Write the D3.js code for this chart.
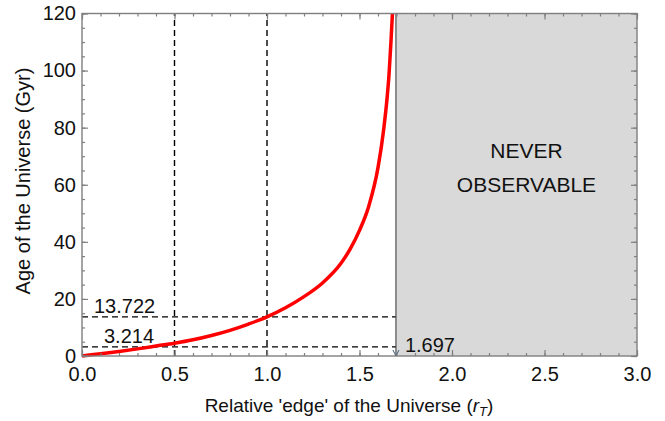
<!DOCTYPE html>
<html>
<head>
<meta charset="utf-8">
<script src="https://cdn.jsdelivr.net/npm/d3@7/dist/d3.min.js"></script>
<style>
  html, body { margin: 0; padding: 0; background: #fff; }
  svg { display: block; font-family: "Liberation Sans", Arial, sans-serif; }
</style>
</head>
<body>
<svg id="chart" width="665" height="421"></svg>
<script>
// ---- data ----
const rT  = [0, 0.1, 0.2, 0.3, 0.4, 0.5, 0.6, 0.7, 0.8, 0.9, 1.0, 1.1, 1.2, 1.3, 1.4, 1.45, 1.5, 1.55, 1.6, 1.63, 1.65, 1.66, 1.67, 1.678];
const age = [0, 0.8, 1.6, 2.5, 3.5, 4.5, 5.7, 7.2, 9.0, 11.2, 13.722, 16.9, 20.8, 25.6, 32.5, 37.5, 44, 52.5, 66, 79, 91, 99, 110, 120];
const refR = [0.5, 1.0];            // vertical dashed lines
const refAge = [13.722, 3.214];     // horizontal dashed lines
const edgeR = 1.697;                // observable edge
const xTicks = [0, 0.5, 1.0, 1.5, 2.0, 2.5, 3.0];
const yTicks = [0, 20, 40, 60, 80, 100, 120];
const xDomain = [0, 3];
const yDomain = [0, 120];

// ---- layout ----
const L = 82, R = 637, T = 13.5, B = 356;
const svg = d3.select("#chart");
const x = d3.scaleLinear().domain(xDomain).range([L, R]);
const y = d3.scaleLinear().domain(yDomain).range([B, T]);

// grey never-observable region
svg.append("rect")
  .attr("x", x(edgeR)).attr("y", y(yDomain[1]))
  .attr("width", x(xDomain[1]) - x(edgeR)).attr("height", y(0) - y(yDomain[1]))
  .attr("fill", "#d9d9d9");

// dashed reference lines
const dash = "6,4";
svg.selectAll(".vref").data(refR).enter().append("line")
  .attr("x1", d => x(d)).attr("x2", d => x(d))
  .attr("y1", y(0)).attr("y2", y(yDomain[1]))
  .attr("stroke", "#000").attr("stroke-width", 1.4).attr("stroke-dasharray", dash);
svg.selectAll(".href").data(refAge).enter().append("line")
  .attr("x1", x(0)).attr("x2", x(edgeR))
  .attr("y1", d => y(d)).attr("y2", d => y(d))
  .attr("stroke", "#000").attr("stroke-width", 1.4).attr("stroke-dasharray", dash);

// curve
const line = d3.line().x((d, i) => x(rT[i])).y(d => y(d)).curve(d3.curveMonotoneX);
svg.append("path").datum(age)
  .attr("d", line).attr("fill", "none")
  .attr("stroke", "#ff0000").attr("stroke-width", 3.5).attr("stroke-linejoin", "round");

// edge line with arrow
svg.append("line")
  .attr("x1", x(edgeR)).attr("x2", x(edgeR))
  .attr("y1", y(yDomain[1])).attr("y2", y(0))
  .attr("stroke", "#404040").attr("stroke-width", 1.1);
svg.append("path")
  .attr("d", `M${x(edgeR) - 3},${y(0) - 6} L${x(edgeR)},${y(0)} L${x(edgeR) + 3},${y(0) - 6}`)
  .attr("fill", "none").attr("stroke", "#3d5f80").attr("stroke-width", 1);

// frame
svg.append("rect")
  .attr("x", L).attr("y", T).attr("width", R - L).attr("height", B - T)
  .attr("fill", "none").attr("stroke", "#7f7f7f").attr("stroke-width", 1.4);

// ticks (inward, all four sides)
const minorX = d3.range(0, 3.0001, 0.1).map(v => +v.toFixed(1));
const minorY = d3.range(0, 120.001, 5);
function styleAxis(g) {
  g.select(".domain").remove();
  g.selectAll(".tick line").attr("stroke", "#7f7f7f").attr("stroke-width", 1.2);
  g.selectAll("text").attr("fill", "#111").style("font-size", "20px")
    .style("font-family", "'Liberation Sans', Arial, sans-serif");
}
svg.append("g").attr("transform", `translate(0,${B})`)
  .call(d3.axisBottom(x).tickValues(minorX).tickSize(-3).tickFormat(""))
  .call(styleAxis);
svg.append("g").attr("transform", `translate(0,${T})`)
  .call(d3.axisTop(x).tickValues(minorX).tickSize(-3).tickFormat(""))
  .call(styleAxis);
svg.append("g").attr("transform", `translate(${L},0)`)
  .call(d3.axisLeft(y).tickValues(minorY).tickSize(-3).tickFormat(""))
  .call(styleAxis);
svg.append("g").attr("transform", `translate(${R},0)`)
  .call(d3.axisRight(y).tickValues(minorY).tickSize(-3).tickFormat(""))
  .call(styleAxis);

svg.append("g").attr("transform", `translate(0,${B})`)
  .call(d3.axisBottom(x).tickValues(xTicks).tickSize(-6).tickPadding(11).tickFormat(d3.format(".1f")))
  .call(styleAxis);
svg.append("g").attr("transform", `translate(0,${T})`)
  .call(d3.axisTop(x).tickValues(xTicks).tickSize(-6).tickFormat(""))
  .call(styleAxis);
svg.append("g").attr("transform", `translate(${L},0)`)
  .call(d3.axisLeft(y).tickValues(yTicks).tickSize(-6).tickPadding(6).tickFormat(d3.format("d")))
  .call(styleAxis);
svg.append("g").attr("transform", `translate(${R},0)`)
  .call(d3.axisRight(y).tickValues(yTicks).tickSize(-6).tickFormat(""))
  .call(styleAxis);

// annotation labels
const fmt3 = d3.format(".3f");
svg.append("text").attr("x", x(0) + 12).attr("y", y(refAge[0]) - 3.5)
  .attr("font-size", 20).attr("fill", "#111").text(fmt3(refAge[0]));
svg.append("text").attr("x", x(0) + 22).attr("y", y(refAge[1]) - 3.5)
  .attr("font-size", 20).attr("fill", "#111").text(fmt3(refAge[1]));
svg.append("text").attr("x", x(edgeR) + 9).attr("y", y(0) - 4)
  .attr("font-size", 20).attr("fill", "#111").text(fmt3(edgeR));

// never observable text
const cx = (x(edgeR) + x(xDomain[1])) / 2 + 10;
svg.append("text").attr("x", cx).attr("y", 158).attr("text-anchor", "middle")
  .attr("font-size", 21).attr("fill", "#111").text("NEVER");
svg.append("text").attr("x", cx).attr("y", 192).attr("text-anchor", "middle")
  .attr("font-size", 21).attr("fill", "#111").text("OBSERVABLE");

// axis titles
const xt = svg.append("text").attr("x", 349).attr("y", 412).attr("text-anchor", "middle")
  .attr("font-size", 19).attr("fill", "#111");
xt.append("tspan").text("Relative 'edge' of the Universe (");
xt.append("tspan").attr("font-style", "italic").text("r");
xt.append("tspan").attr("font-style", "italic").attr("font-size", 13).attr("dy", 4).text("T");
xt.append("tspan").attr("dy", -4).text(")");

svg.append("text").attr("transform", "translate(30,181) rotate(-90)")
  .attr("text-anchor", "middle").attr("font-size", 20).attr("fill", "#111")
  .text("Age of the Universe (Gyr)");
</script>
</body>
</html>
